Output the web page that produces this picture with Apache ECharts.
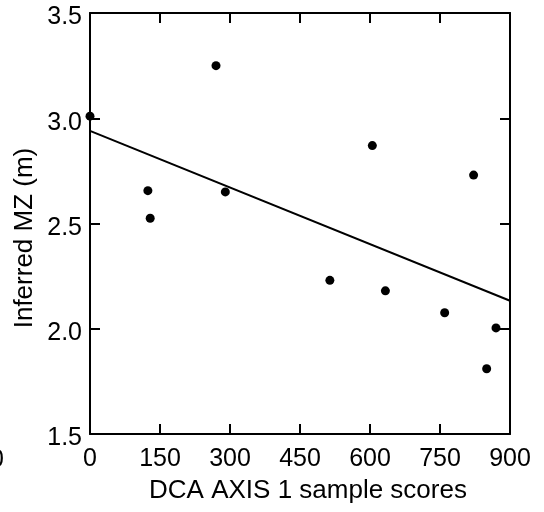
<!DOCTYPE html>
<html>
<head>
<meta charset="utf-8">
<script src="https://cdn.jsdelivr.net/npm/echarts@6/dist/echarts.min.js"></script>
<style>html,body{margin:0;padding:0;background:#fff;}#c{width:544px;height:512px;}</style>
</head>
<body>
<div id="c"></div>
<script>
const xTicks = [0, 150, 300, 450, 600, 750, 900];
const yTicks = [1.5, 2.0, 2.5, 3.0, 3.5];
const sampleScores = [0, 124, 129, 270, 290, 514, 605, 633, 760, 822, 850, 870];
const inferredMZ = [3.01, 2.656, 2.525, 3.25, 2.65, 2.23, 2.87, 2.18, 2.076, 2.73, 1.81, 2.004];
const fitX = [0, 900];
const fitY = [2.94, 2.133];
const xTitle = 'DCA AXIS 1 sample scores';
const yTitle = 'Inferred MZ (m)';

const font = 'Liberation Sans, Arial, Helvetica, sans-serif';
const chart = echarts.init(document.getElementById('c'), null, {renderer: 'canvas'});
const axisLine = () => ({show: true, onZero: false, lineStyle: {color: '#000', width: 2}});
const tick = () => ({show: true, inside: true, length: 10, lineStyle: {color: '#000', width: 2}});
chart.setOption({
  animation: false,
  backgroundColor: '#fff',
  grid: {left: 90, right: 34, top: 13, bottom: 78},
  xAxis: [{
    type: 'value', position: 'bottom', min: 0, max: 900, interval: 150,
    axisLine: axisLine(), axisTick: tick(), splitLine: {show: false},
    axisLabel: {color: '#000', fontSize: 25, fontFamily: font, margin: 13,
      formatter: v => xTicks.includes(v) ? String(v) : ''}
  }, {
    type: 'value', position: 'top', min: 0, max: 900, interval: 150,
    axisLine: axisLine(), axisTick: tick(), splitLine: {show: false},
    axisLabel: {show: false}
  }],
  yAxis: [{
    type: 'value', position: 'left', min: 1.5, max: 3.5, interval: 0.5,
    axisLine: axisLine(), axisTick: tick(), splitLine: {show: false},
    axisLabel: {color: '#000', fontSize: 25, fontFamily: font, margin: 8,
      formatter: v => yTicks.some(t => Math.abs(t - v) < 1e-9) ? '{a|' + v.toFixed(1) + '}' : '',
      rich: {a: {color: '#000', fontSize: 25, fontFamily: font, padding: [9, 0, 0, 0]}}}
  }, {
    type: 'value', position: 'right', min: 1.5, max: 3.5, interval: 0.5,
    axisLine: axisLine(), axisTick: tick(), splitLine: {show: false},
    axisLabel: {show: false}
  }],
  graphic: [{
    type: 'text', rotation: Math.PI / 2,
    style: {text: yTitle, fill: '#000', font: '26px ' + font, align: 'center', verticalAlign: 'middle', x: 0, y: 0},
    x: 25, y: 238
  }, {
    type: 'text',
    style: {text: xTitle, fill: '#000', font: '26px ' + font, align: 'center', verticalAlign: 'middle', x: 0, y: 0},
    x: 308, y: 491
  }, {
    type: 'text', x: -10, y: 448,
    style: {text: '0', fill: '#000', font: '25px ' + font}
  }],
  series: [{
    type: 'scatter', xAxisIndex: 0, yAxisIndex: 0,
    data: sampleScores.map((x, i) => [x, inferredMZ[i]]),
    symbol: 'circle', symbolSize: 9,
    itemStyle: {color: '#000', opacity: 1}
  }, {
    type: 'line', xAxisIndex: 0, yAxisIndex: 0,
    data: fitX.map((x, i) => [x, fitY[i]]),
    showSymbol: false, symbol: 'none',
    lineStyle: {color: '#000', width: 2}
  }]
});
</script>
</body>
</html>
